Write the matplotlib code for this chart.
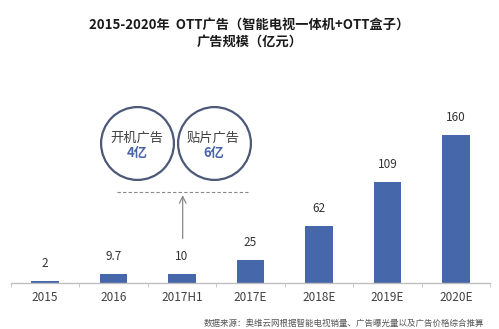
import numpy as np
import matplotlib
matplotlib.use("Agg")
import matplotlib.pyplot as plt

plt.rcParams['font.family'] = ['Noto Sans CJK SC', 'DejaVu Sans']

# 数据
categories = ['2015', '2016', '2017H1', '2017E', '2018E', '2019E', '2020E']
values = [2, 9.7, 10, 25, 62, 109, 160]
value_labels = ['2', '9.7', '10', '25', '62', '109', '160']

title_1 = '2015-2020年  OTT广告（智能电视一体机+OTT盒子）'
title_2 = '广告规模（亿元）'
source = '数据来源：奥维云网根据智能电视销量、广告曝光量以及广告价格综合推算'

bubble_names = ['开机广告', '贴片广告']
bubble_values = ['4亿', '6亿']

bar_color = '#4767AB'
W, H = 499, 329

fig = plt.figure(figsize=(W / 100, H / 100), dpi=100)
# 轴的位置（像素换算）
left_px, right_px = 10.75, 490.25
base_px = 283
ymax = 260
top_px = base_px - ymax * 0.925
ax = fig.add_axes([left_px / W, 1 - base_px / H,
                   (right_px - left_px) / W, (base_px - top_px) / H])

x = np.arange(len(categories))
ax.bar(x, values, width=0.4, color=bar_color, zorder=2)
for xi, v, lab in zip(x, values, value_labels):
    ax.annotate(lab, (xi, v), xytext=(0, 8), textcoords='offset points',
                ha='center', va='bottom', fontsize=8.5, color='#333333')

ax.set_xlim(-0.5, len(categories) - 0.5)
ax.set_ylim(0, ymax)
for s in ['top', 'right', 'left']:
    ax.spines[s].set_visible(False)
ax.spines['bottom'].set_color('#BFBFBF')
ax.spines['bottom'].set_linewidth(1)
ax.set_yticks([])
ax.set_xticks(x)
ax.set_xticklabels(categories, fontsize=8.5, color='#404040')
ax.tick_params(axis='x', which='major', length=0, pad=6)
ax.set_xticks(np.arange(-0.5, len(categories)), minor=True)
ax.tick_params(axis='x', which='minor', length=3, color='#BFBFBF', direction='out')

# 圆圈
bubble_x = [1.34, 2.46]
bubble_y = 151
ax.scatter(bubble_x, [bubble_y] * 2, s=2750, facecolors='white',
           edgecolors='#4B5878', linewidths=1.6, zorder=3, clip_on=False)
for bx, name, val in zip(bubble_x, bubble_names, bubble_values):
    ax.text(bx, bubble_y + 6, name, ha='center', va='center', fontsize=9.5,
            color='#404040', zorder=4)
    ax.text(bx, bubble_y - 11, val, ha='center', va='center', fontsize=9.5,
            color='#4A64A8', fontweight='bold', zorder=4)

# 虚线与箭头
ax.plot([1.05, 2.96], [98.5, 98.5], ls=(0, (3, 2)), color='#888888', lw=0.8)
ax.annotate('', xy=(2.01, 98), xytext=(2.01, 45),
            arrowprops=dict(arrowstyle='->', color='#888888', lw=0.9,
                            mutation_scale=12))

fig.text(0.5, 1 - 25 / H, title_1, ha='center', va='center', fontsize=9.5,
         fontweight='bold', color='#1a1a1a')
fig.text(0.5, 1 - 42 / H, title_2, ha='center', va='center', fontsize=9.5,
         fontweight='bold', color='#1a1a1a')
fig.text(484 / W, 1 - 323 / H, source, ha='right', va='center', fontsize=6.1,
         color='#555555')

fig.savefig('out.png', dpi=100)
